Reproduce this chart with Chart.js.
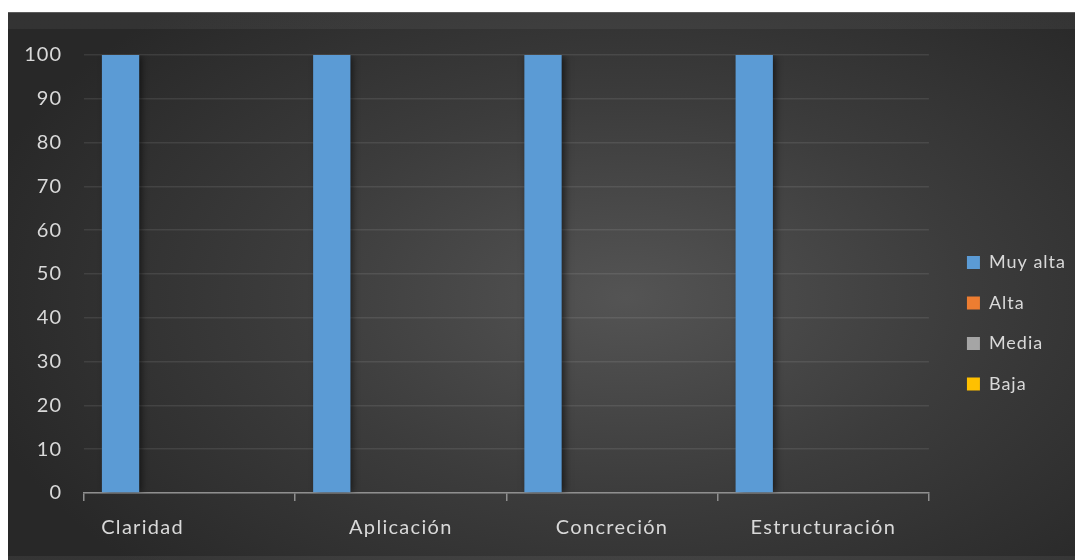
<!DOCTYPE html>
<html>
<head>
<meta charset="utf-8">
<script src="https://cdn.jsdelivr.net/npm/chart.js@4.4.1/dist/chart.umd.min.js"></script>
<style>
  html, body { margin: 0; padding: 0; background: #fff; }
  #wrap {
    position: absolute; left: 8px; top: 12px; width: 1067px; height: 548px;
    background:
      linear-gradient(to bottom, rgba(255,255,255,0.05) 0, rgba(255,255,255,0.05) 16px, transparent 16px, transparent 543px, rgba(255,255,255,0.06) 543px),
      radial-gradient(ellipse 70% 80% at 58% 52%, #545454 0%, #3c3c3c 45%, #282828 90%);
    border-top: 1px solid #5c5c5c;
    box-sizing: border-box;
  }
  canvas { display: block; }
</style>
</head>
<body>
<div id="wrap"><canvas id="chart" width="1067" height="547"></canvas></div>
<script>
const categories = ['Claridad', 'Aplicación', 'Concreción', 'Estructuración'];
const seriesNames = ['Muy alta', 'Alta', 'Media', 'Baja'];
const muyAlta = [100, 100, 100, 100];
const alta    = [0, 0, 0, 0];
const media   = [0, 0, 0, 0];
const baja    = [0, 0, 0, 0];
const yTicks  = [0, 10, 20, 30, 40, 50, 60, 70, 80, 90, 100];

const COLORS = ['#5B9BD5', '#ED7D31', '#A5A5A5', '#FFC000'];
const TEXT = '#d9d9d9';
const FONT = 'Lato, "Open Sans", sans-serif';
const labelShift = [-47, 0, 0, 0]; // excel pushed the first label left

// the Excel font is loosely spaced, widen all chart text a bit
const spacing = {
  id: 'spacing',
  beforeDraw(chart) { chart.ctx.letterSpacing = '1px'; }
};

// soft shadow to the right of the bars
const barShadow = {
  id: 'barShadow',
  beforeDatasetsDraw(chart) {
    const c = chart.ctx;
    c.save();
    c.shadowColor = 'rgba(0,0,0,0.55)';
    c.shadowBlur = 7;
    c.shadowOffsetX = 3;
    c.shadowOffsetY = 1;
  },
  afterDatasetsDraw(chart) { chart.ctx.restore(); }
};

// category labels, drawn by hand so each one can sit where Excel put it
const xLabels = {
  id: 'xLabels',
  afterDraw(chart) {
    const c = chart.ctx, xs = chart.scales.x;
    c.save();
    c.font = '20px ' + FONT;
    c.letterSpacing = '1.3px';
    c.fillStyle = TEXT;
    c.textAlign = 'center';
    c.textBaseline = 'middle';
    categories.forEach((lab, i) => {
      c.fillText(lab, xs.getPixelForValue(i) + labelShift[i], chart.chartArea.bottom + 35);
    });
    c.restore();
  }
};

const data = [muyAlta, alta, media, baja];

new Chart(document.getElementById('chart'), {
  type: 'bar',
  data: {
    labels: categories,
    datasets: seriesNames.map((name, i) => ({
      label: name,
      data: data[i],
      backgroundColor: COLORS[i],
      borderWidth: 0,
      categoryPercentage: 0.872,
      barPercentage: 0.81
    }))
  },
  options: {
    responsive: false,
    animation: false,
    layout: { padding: { top: 42, right: 7, bottom: 5, left: 0 } },
    plugins: {
      tooltip: { enabled: false },
      legend: {
        position: 'right',
        title: { display: true, text: ' ', font: { size: 12 }, padding: { top: 22, bottom: 0 } },
        labels: {
          color: TEXT,
          font: { family: FONT, size: 18 },
          boxWidth: 13,
          boxHeight: 13,
          padding: 22.5
        }
      }
    },
    scales: {
      x: {
        offset: true,
        grid: { display: true, drawOnChartArea: false, drawTicks: true, tickLength: 8, offset: true, color: '#8f8f8f', lineWidth: 1.5 },
        border: { display: true, color: '#8f8f8f', width: 1.5 },
        ticks: { color: 'transparent', font: { family: FONT, size: 20 }, padding: 15 }
      },
      y: {
        min: 0, max: 100,
        afterFit(s) { s.width = 76; },
        afterBuildTicks(s) { s.ticks = yTicks.map(v => ({ value: v })); },
        grid: { color: 'rgba(255,255,255,0.09)', lineWidth: 1.5, drawTicks: false },
        border: { display: false },
        ticks: { color: TEXT, font: { family: FONT, size: 20 }, padding: 22 }
      },
      gap: {
        position: 'right',
        display: true,
        afterFit(s) { s.width = 15.5; },
        grid: { display: false },
        border: { display: false },
        ticks: { display: false }
      }
    }
  },
  plugins: [spacing, barShadow, xLabels]
});
</script>
</body>
</html>
